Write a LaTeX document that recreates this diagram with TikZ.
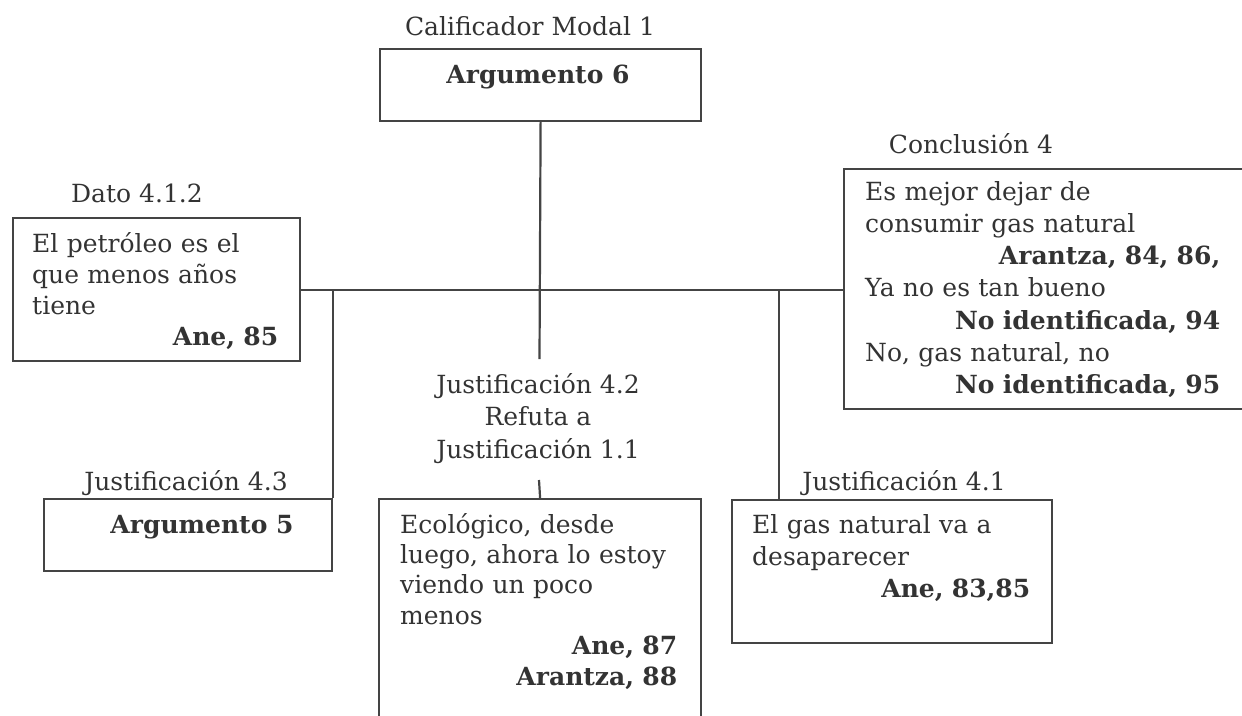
\documentclass[tikz,border=0pt]{standalone}
\usepackage{fontspec}
\setmainfont{DejaVu Serif}
\definecolor{ink}{HTML}{333333}
\definecolor{rulecol}{HTML}{444444}
\newcommand\who[1]{\\\hspace*{\fill}\textbf{#1}}
\begin{document}
\begin{tikzpicture}[x=1pt,y=-1pt,
  box/.style={draw=rulecol, line width=2.2pt, rectangle, inner sep=0pt, anchor=north west},
  wire/.style={draw=rulecol, line width=2.2pt},
  lbl/.style={text=ink, inner sep=0pt, anchor=base, font=\fontsize{25}{31}\selectfont},
  body/.style={text=ink, inner sep=0pt, anchor=north west, align=left},
]
\useasboundingbox (0,0) rectangle (1242,715);

% boxes
\node[box, minimum width=321pt, minimum height=72pt]  (arg6)  at (379,48)  {};
\node[box, minimum width=287pt, minimum height=143pt] (dato)  at (12,217)  {};
\node[box, minimum width=410pt, minimum height=240pt] (concl) at (843,168) {};
\node[box, minimum width=288pt, minimum height=72pt]  (arg5)  at (43,498)  {};
\node[box, minimum width=322pt, minimum height=240pt] (mid)   at (378,498) {};
\node[box, minimum width=320pt, minimum height=143pt] (j41)   at (731,499) {};

% titles above the boxes
\node[lbl] (tcal)  at (530,35)  {Calificador Modal 1};
\node[lbl] (tdato) at (137,202) {Dato 4.1.2};
\node[lbl] (tconc) at (971,153) {Conclusión 4};
\node[lbl] (tj43)  at (186,490) {Justificación 4.3};
\node[lbl] (tj41)  at (904,490) {Justificación 4.1};
\node[lbl, anchor=north, align=center, font=\fontsize{25}{32.5}\selectfont] (tj42) at (538,370.3)
  {\strut Justificación 4.2\\Refuta a\\Justificación 1.1};

% box contents
\node[lbl, font=\fontsize{25}{31}\selectfont\bfseries] (targ6) at (538,83)  {Argumento 6};
\node[lbl, font=\fontsize{25}{31}\selectfont\bfseries] (targ5) at (202,533) {Argumento 5};

\node[body, text width=246pt, font=\fontsize{25}{31}\selectfont] (bdato) at (32,230.3)
  {\strut El petróleo es el\\que menos años\\tiene\who{Ane, 85}};
\node[body, text width=355pt, font=\fontsize{25}{32.2}\selectfont] (bconc) at (865,177.5)
  {\strut Es mejor dejar de\\consumir gas natural\who{Arantza, 84, 86,}\\Ya no es tan bueno\who{No identificada, 94}\\No, gas natural, no\who{No identificada, 95}};
\node[body, text width=277pt, font=\fontsize{25}{30.4}\selectfont] (bmid) at (400,511.7)
  {\strut Ecológico, desde\\luego, ahora lo estoy\\viendo un poco\\menos\who{Ane, 87}\who{Arantza, 88}};
\node[body, text width=278pt, font=\fontsize{25}{32}\selectfont] (bj41) at (752,510.6)
  {\strut El gas natural va a\\desaparecer\who{Ane, 83,85}};

% connectors
\coordinate (hub)   at (539.5,359);
\coordinate (midtap) at (539,480);
\coordinate (j41tap) at (779,499);
\draw[wire] (arg6.south) -- (hub);
\draw[wire] (dato.east) -- (dato.east -| concl.west);
\draw[wire] (dato.east -| arg5.north east) -- (arg5.north east);
\draw[wire] (dato.east -| j41tap) -- (j41tap);
\draw[wire] (midtap) -- (mid.north);
\end{tikzpicture}
\end{document}
